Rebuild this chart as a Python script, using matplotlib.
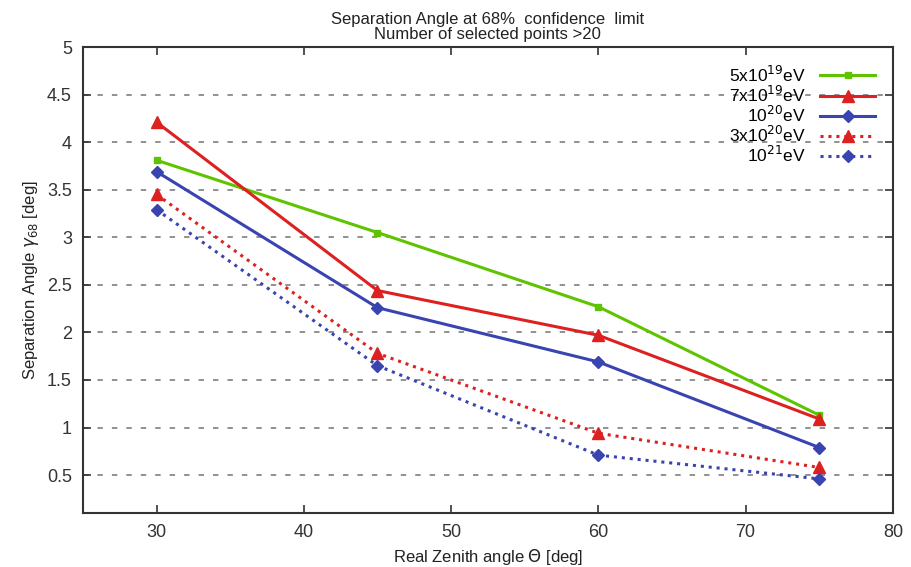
import numpy as np
import matplotlib
matplotlib.use("Agg")
import matplotlib.pyplot as plt

plt.rcParams['font.family'] = ['Liberation Sans', 'DejaVu Sans']

zenith = [30, 45, 60, 75]
e5e19 = [3.81, 3.05, 2.27, 1.13]
e7e19 = [4.21, 2.44, 1.97, 1.09]
e1e20 = [3.69, 2.26, 1.69, 0.79]
e3e20 = [3.45, 1.78, 0.94, 0.58]
e1e21 = [3.29, 1.65, 0.71, 0.46]

labels = [r"5x10$^{19}$eV", r"7x10$^{19}$eV", r"10$^{20}$eV",
          r"3x10$^{20}$eV", r"10$^{21}$eV"]

fig = plt.figure(figsize=(9.12, 5.67), dpi=100)
ax = fig.add_axes([0.091, 0.095, 0.888, 0.822])

green = "#5ec400"
red = "#dd2020"
blue = "#3a44b0"
dots = (0, (1, 1.6))

ax.plot(zenith, e5e19, color=green, lw=2.2, marker="s", ms=5, label=labels[0])
ax.plot(zenith, e7e19, color=red, lw=2.2, marker="^", ms=8, label=labels[1])
ax.plot(zenith, e1e20, color=blue, lw=2.2, marker="D", ms=6, label=labels[2])
ax.plot(zenith, e3e20, color=red, lw=2.2, ls=dots, marker="^", ms=8,
        label=labels[3])
ax.plot(zenith, e1e21, color=blue, lw=2.2, ls=dots, marker="D", ms=6,
        label=labels[4])

ax.set_xlim(25, 80)
ax.set_ylim(0.1, 5)
ax.set_xticks([30, 40, 50, 60, 70, 80])
ax.set_yticks(np.arange(0.5, 5.01, 0.5))
ax.set_yticklabels(["0.5", "1", "1.5", "2", "2.5", "3", "3.5", "4", "4.5", "5"])
ax.tick_params(direction="in", top=True, right=True, length=6, width=1.2,
               labelsize=13, colors="#333333", pad=8)
for s in ax.spines.values():
    s.set_linewidth(1.5)
    s.set_color("#333333")

for yv in np.arange(0.5, 4.51, 0.5):
    ax.axhline(yv, color="#888888", lw=1.3, ls=(0, (3, 5)), zorder=0)

ax.set_xlabel(r"Real Zenith angle $\Theta$ [deg]", fontsize=12, color="#222222")
ax.set_ylabel(r"Separation Angle $\gamma_{68}$ [deg]", fontsize=12,
              color="#222222")
ax.set_title("Separation Angle at 68%  confidence  limit\n"
             "Number of selected points >20", fontsize=12, color="#222222",
             linespacing=1.0, pad=6)

leg = ax.legend(loc="upper right", frameon=False, markerfirst=False,
                handlelength=3.2, labelspacing=0.0, fontsize=12.5,
                borderaxespad=0.6, handletextpad=0.8)

fig.savefig("out.png", dpi=100)
